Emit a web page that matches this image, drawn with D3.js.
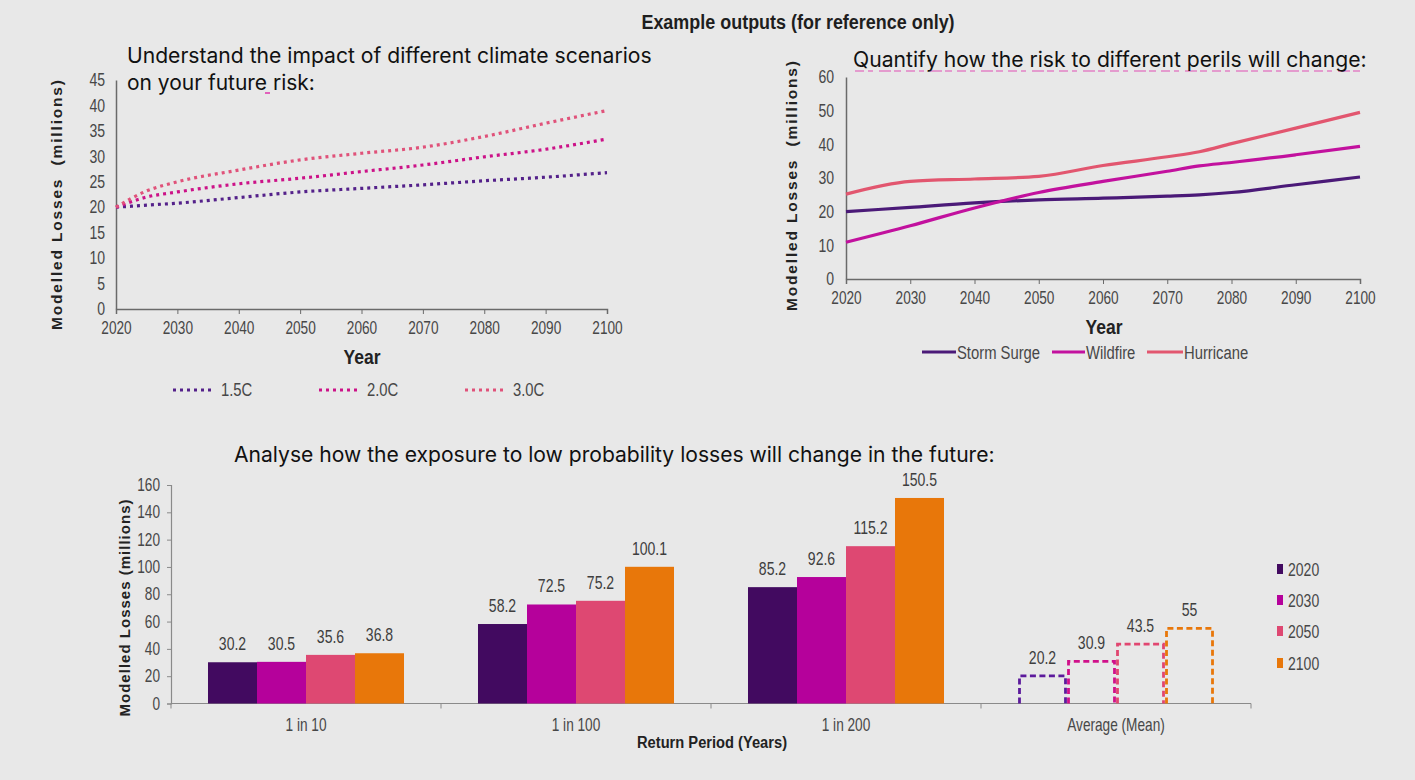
<!DOCTYPE html>
<html>
<head>
<meta charset="utf-8">
<script src="https://cdn.jsdelivr.net/npm/d3@7"></script>
<style>
  html, body { margin: 0; padding: 0; background: #e8e8e8; }
  svg { display: block; }
  .narrow, .tick text { font-family: "Liberation Sans", Arial, sans-serif; }
  .note { font-family: Inter, "Noto Sans", sans-serif; fill: #111; }
</style>
</head>
<body>
<svg id="chart" width="1415" height="780"></svg>
<script>
// ---- Scenario chart: modelled losses by warming scenario ----
const scenarioYears = [2020, 2025, 2030, 2040, 2050, 2060, 2070, 2080, 2090, 2100];
const scenario15 = [20, 20.4, 20.8, 21.9, 23.0, 23.7, 24.4, 25.2, 25.9, 26.8];
const scenario20 = [20, 22.0, 23.0, 24.6, 25.7, 27.0, 28.3, 29.9, 31.4, 33.4];
const scenario30 = [20, 23.2, 25.0, 27.3, 29.3, 30.6, 31.8, 33.9, 36.5, 39.0];
const scenarioNames = ["1.5C", "2.0C", "3.0C"];
const scenarioTicksY = [0, 5, 10, 15, 20, 25, 30, 35, 40, 45];
const decadeTicks = [2020, 2030, 2040, 2050, 2060, 2070, 2080, 2090, 2100];

// ---- Peril chart: modelled losses by peril ----
const perilYears = [2020, 2030, 2040, 2050, 2060, 2070, 2075, 2080, 2090, 2100];
const stormSurge = [20, 21.3, 22.6, 23.5, 24.0, 24.6, 25.0, 25.7, 28.0, 30.3];
const wildfire   = [10.9, 15.8, 21.1, 25.7, 29.0, 32.0, 33.6, 34.6, 36.9, 39.4];
const hurricane  = [25.2, 29.0, 29.7, 30.5, 33.7, 36.3, 37.8, 40.2, 44.8, 49.5];
const perilNames = ["Storm Surge", "Wildfire", "Hurricane"];
const perilTicksY = [0, 10, 20, 30, 40, 50, 60];

// ---- Return period chart ----
const returnPeriods = ["1 in 10", "1 in 100", "1 in 200", "Average (Mean)"];
const barYears = ["2020", "2030", "2050", "2100"];
const losses2020 = [30.2, 58.2, 85.2, 20.2];
const losses2030 = [30.5, 72.5, 92.6, 30.9];
const losses2050 = [35.6, 75.2, 115.2, 43.5];
const losses2100 = [36.8, 100.1, 150.5, 55];
const barTicksY = [0, 20, 40, 60, 80, 100, 120, 140, 160];

const svg = d3.select("#chart");
const AXIS = "#6a6a6a";
const SX = 0.78;            // horizontal squeeze for the condensed chart lettering
const LABEL = "#474747";

// Condensed text: drawn at (x, y) and squeezed horizontally
function ntext(x, y, str, o = {}) {
  const sx = o.sx || SX;
  const t = svg.append("text").attr("class", "narrow")
    .attr("transform", `translate(${x},${y}) scale(${sx},1)`)
    .attr("text-anchor", o.anchor || "start")
    .attr("font-size", o.size || 18)
    .attr("font-weight", o.weight || "normal")
    .attr("fill", o.fill || LABEL)
    .text(str);
  if (o.width) {
    const len = t.node().getComputedTextLength();
    t.attr("transform", `translate(${x},${y}) scale(${o.width / len},1)`);
  }
  return t;
}

// Squeeze axis tick labels the same way
function condenseTicks(axisG, size, left, pad) {
  axisG.selectAll(".tick text")
    .attr("font-size", size).attr("fill", LABEL)
    .attr("transform", `scale(${SX},1)`);
  if (left) axisG.selectAll(".tick text").attr("x", -pad / SX);
}

// Rotated bold axis title stretched to a given length
function yTitle(cx, cy, str, len, size) {
  svg.append("text").attr("font-family", "Liberation Sans, Arial, sans-serif")
    .attr("transform", `translate(${cx},${cy}) rotate(-90)`).attr("text-anchor", "middle")
    .attr("font-size", size).attr("font-weight", "bold").attr("fill", "#222")
    .attr("xml:space", "preserve")
    .attr("textLength", len).attr("lengthAdjust", "spacing")
    .text(str);
}

// Caption in the plain sans, sized to span a given width
function note(x, y, str, width, size) {
  const t = svg.append("text").attr("class", "note")
    .attr("x", x).attr("y", y).attr("font-size", size).text(str);
  const len = t.node().getComputedTextLength();
  t.attr("font-size", size * width / len);
  return t;
}

// Page heading
ntext(798, 29, "Example outputs (for reference only)", { size: 20, weight: "bold", anchor: "middle", fill: "#1e1e1e", width: 313 });

// ================= Chart 1 =================
{
  const x = d3.scaleLinear().domain([2020, 2100]).range([116, 607]);
  const y = d3.scaleLinear().domain([0, 45]).range([309, 80]);
  const g = svg.append("g");

  g.append("g").attr("transform", "translate(0,309)")
    .call(d3.axisBottom(x).tickValues(decadeTicks).tickFormat(d3.format("d")).tickSize(5).tickPadding(8))
    .call(a => a.select(".domain").attr("stroke", AXIS).attr("stroke-width", 1.5))
    .call(a => a.selectAll(".tick line").attr("stroke", AXIS))
    .call(a => condenseTicks(a, 17.5, false));
  g.append("g").attr("transform", "translate(116,0)")
    .call(d3.axisLeft(y).tickValues(scenarioTicksY).tickSize(0).tickPadding(11))
    .call(a => a.select(".domain").attr("stroke", AXIS).attr("stroke-width", 1.5))
    .call(a => condenseTicks(a, 18, true, 11));

  ntext(362, 364, "Year", { size: 20, weight: "bold", anchor: "middle", fill: "#222", width: 37 });
  yTitle(62, 205, "Modelled Losses  (millions)", 250, 15.5);

  const series = [scenario15, scenario20, scenario30];
  const colors = ["#54218a", "#cc1288", "#e0527a"];
  const line = d3.line().x((d, i) => x(scenarioYears[i])).y(d => y(d)).curve(d3.curveMonotoneX);
  series.forEach((s, k) => {
    g.append("path").attr("d", line(s)).attr("fill", "none")
      .attr("stroke", colors[k]).attr("stroke-width", 3.2).attr("stroke-dasharray", "3 4");
  });

  const legX = [173, 319, 465];
  scenarioNames.forEach((n, k) => {
    svg.append("line").attr("x1", legX[k]).attr("x2", legX[k] + 41).attr("y1", 390).attr("y2", 390)
      .attr("stroke", colors[k]).attr("stroke-width", 3).attr("stroke-dasharray", "3 4");
    ntext(legX[k] + 48, 396, n, { size: 19 });
  });

  note(127, 63, "Understand the impact of different climate scenarios", 525, 18);
  note(127, 90, "on your future risk:", 188, 18);
  // small pink mark under the caption
  svg.append("line").attr("x1", 265).attr("x2", 270).attr("y1", 93).attr("y2", 93)
    .attr("stroke", "#e040b0").attr("stroke-width", 2).attr("opacity", 0.8);
}

// ================= Chart 2 =================
{
  const x = d3.scaleLinear().domain([2020, 2100]).range([846, 1360]);
  const y = d3.scaleLinear().domain([0, 60]).range([279, 77]);
  const g = svg.append("g");

  g.append("g").attr("transform", "translate(0,279)")
    .call(d3.axisBottom(x).tickValues(decadeTicks).tickFormat(d3.format("d")).tickSize(5).tickPadding(8))
    .call(a => a.select(".domain").attr("stroke", AXIS).attr("stroke-width", 1.5))
    .call(a => a.selectAll(".tick line").attr("stroke", AXIS))
    .call(a => condenseTicks(a, 17.5, false));
  g.append("g").attr("transform", "translate(846,0)")
    .call(d3.axisLeft(y).tickValues(perilTicksY).tickSize(0).tickPadding(12))
    .call(a => a.select(".domain").attr("stroke", AXIS).attr("stroke-width", 1.5))
    .call(a => condenseTicks(a, 18, true, 12));

  ntext(1104, 334, "Year", { size: 20, weight: "bold", anchor: "middle", fill: "#222", width: 37 });
  yTitle(797, 186, "Modelled Losses  (millions)", 250, 15.5);

  const series = [stormSurge, wildfire, hurricane];
  const colors = ["#4b1a78", "#c2119e", "#e2566f"];
  const line = d3.line().x((d, i) => x(perilYears[i])).y(d => y(d)).curve(d3.curveMonotoneX);
  series.forEach((s, k) => {
    g.append("path").attr("d", line(s)).attr("fill", "none")
      .attr("stroke", colors[k]).attr("stroke-width", 3.2).attr("stroke-linejoin", "round");
  });

  const legX = [922, 1052, 1147];
  const legW = [34, 33, 36];
  perilNames.forEach((n, k) => {
    svg.append("line").attr("x1", legX[k]).attr("x2", legX[k] + legW[k]).attr("y1", 352).attr("y2", 352)
      .attr("stroke", colors[k]).attr("stroke-width", 3);
    ntext(legX[k] + legW[k] + 1, 359, n, { size: 19 });
  });

  // faint pink broken underline beneath the caption
  svg.append("line").attr("x1", 855).attr("x2", 1365).attr("y1", 71).attr("y2", 71)
    .attr("stroke", "#e040b0").attr("stroke-width", 2).attr("opacity", 0.45)
    .attr("stroke-dasharray", "9 4 5 6 12 3 7 5");
  note(853, 67, "Quantify how the risk to different perils will change:", 514, 18);
}

// ================= Chart 3 =================
{
  const x0 = d3.scaleBand().domain(returnPeriods).range([171, 1251]).padding(0);
  const x1 = d3.scaleBand().domain(barYears).range([0, x0.bandwidth()]).paddingInner(0).paddingOuter(0.755);
  const y = d3.scaleLinear().domain([0, 160]).range([703.5, 485]);
  const g = svg.append("g");
  const colors = ["#420a60", "#b5019b", "#de4872", "#e8770a"];
  const dashColors = ["#5c1a9c", "#d0108a", "#e14670", "#e8770a"];
  const values = [losses2020, losses2030, losses2050, losses2100];

  g.append("g").attr("transform", "translate(171,0)")
    .call(d3.axisLeft(y).tickValues(barTicksY).tickSize(4).tickPadding(7))
    .call(a => a.select(".domain").attr("stroke", "#8a8a8a").attr("stroke-width", 1.2))
    .call(a => a.selectAll(".tick line").attr("stroke", "#8a8a8a"))
    .call(a => condenseTicks(a, 17.5, true, 11));

  // category axis with dividers between groups
  const bottom = g.append("g").attr("transform", "translate(0,703.5)");
  bottom.append("line").attr("x1", 171).attr("x2", 1251).attr("stroke", "#8a8a8a").attr("stroke-width", 1.2);
  const edges = returnPeriods.map(c => x0(c)).concat([x0(returnPeriods[returnPeriods.length - 1]) + x0.bandwidth()]);
  bottom.selectAll("line.div").data(edges).join("line").attr("class", "div")
    .attr("x1", d => d).attr("x2", d => d).attr("y1", 0).attr("y2", 5).attr("stroke", "#8a8a8a");
  returnPeriods.forEach(c => ntext(x0(c) + x0.bandwidth() / 2, 731, c, { size: 17.5, anchor: "middle" }));

  returnPeriods.forEach((cat, ci) => {
    barYears.forEach((yr, k) => {
      const v = values[k][ci];
      const bx = x0(cat) + x1(yr);
      const bw = x1.bandwidth();
      if (ci < 3) {
        g.append("rect").attr("x", bx).attr("y", y(v)).attr("width", bw).attr("height", y(0) - y(v))
          .attr("fill", colors[k]);
      } else {
        const p = d3.path();
        p.moveTo(bx + 1.5, y(0)); p.lineTo(bx + 1.5, y(v)); p.lineTo(bx + bw - 1.5, y(v)); p.lineTo(bx + bw - 1.5, y(0));
        g.append("path").attr("d", p.toString()).attr("fill", "none")
          .attr("stroke", dashColors[k]).attr("stroke-width", 2.8).attr("stroke-dasharray", "6 3.5");
      }
      ntext(bx + bw / 2, y(v) - 12, String(v), { size: 18, anchor: "middle", fill: "#3e3e3e" });
    });
  });

  ntext(712, 748, "Return Period (Years)", { size: 17, weight: "bold", anchor: "middle", fill: "#222", width: 150 });
  yTitle(130, 608, "Modelled Losses (millions)", 217, 15);

  const legY = [569, 600, 631, 663];
  barYears.forEach((yr, k) => {
    svg.append("rect").attr("x", 1277).attr("y", legY[k] - 5).attr("width", 6).attr("height", 10).attr("fill", colors[k]);
    ntext(1288, legY[k] + 6.5, yr, { size: 18 });
  });

  note(234, 462, "Analyse how the exposure to low probability losses will change in the future:", 761, 18);
}
</script>
</body>
</html>
